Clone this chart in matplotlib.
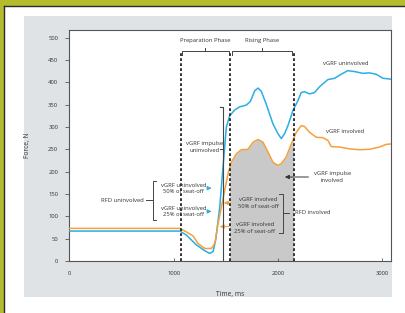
import numpy as np
from matplotlib import pyplot as plt
from matplotlib.patches import Rectangle

# vGRF traces (time in ms, force in N)
t_uninv = [0, 1060, 1123, 1219, 1299, 1347, 1379, 1404, 1443, 1474, 1506, 1538, 1586, 1634,
           1698, 1736, 1778, 1810, 1841, 1889, 1953, 2001, 2033, 2065, 2097, 2145, 2193,
           2224, 2256, 2304, 2352, 2400, 2480, 2544, 2607, 2671, 2735, 2815, 2879, 2943,
           3007, 3086]
f_uninv = [67, 67, 58, 36, 23, 17, 21, 47, 121, 210, 300, 325, 338, 345,
           349, 357, 381, 387, 380, 351, 307, 285, 274, 285, 303, 337, 359,
           377, 379, 374, 377, 390, 406, 409, 418, 426, 424, 420, 421, 418,
           409, 407]

t_inv = [0, 1060, 1123, 1187, 1235, 1299, 1363, 1395, 1427, 1459, 1490, 1522, 1554, 1602,
         1650, 1714, 1762, 1810, 1857, 1905, 1953, 2001, 2033, 2081, 2129, 2177, 2224,
         2256, 2304, 2368, 2432, 2480, 2512, 2592, 2688, 2783, 2879, 2975, 3038, 3086]
f_inv = [73, 73, 65, 56, 39, 28, 28, 39, 84, 121, 158, 195, 221, 240,
         249, 250, 266, 272, 266, 244, 221, 214, 218, 233, 262, 288, 303,
         301, 288, 277, 276, 270, 256, 255, 251, 249, 250, 255, 261, 262]

# phase boundaries (ms)
prep_start = 1069
seat_off = 1538
rise_end = 2151
impulse_uninv_t = 1474

BLUE = '#29aee6'
ORANGE = '#f5a03c'
TXT = '#333333'
FS = 4.2

plt.rcParams['font.family'] = ['Open Sans', 'DejaVu Sans']
plt.rcParams['lines.scale_dashes'] = False

fig = plt.figure(figsize=(4.06, 3.13), dpi=100)
fig.patch.set_facecolor('#b4bc2e')
W, H = 406.0, 313.0
# white page + dark edge + grey panel
fig.patches.append(Rectangle((4.5 / W, 0), 1, 1 - 5.5 / H, transform=fig.transFigure,
                             facecolor='white', edgecolor='none', zorder=-3))
fig.add_artist(plt.Line2D([4.5 / W, 4.5 / W], [0, 1 - 5.5 / H], color='#2b2b2b', lw=1.0,
                          transform=fig.transFigure, zorder=-2))
fig.add_artist(plt.Line2D([4.5 / W, 1], [1 - 5.5 / H, 1 - 5.5 / H], color='#2b2b2b', lw=1.0,
                          transform=fig.transFigure, zorder=-2))
fig.patches.append(Rectangle((24 / W, 1 - 297 / H), (392 - 24) / W, (297 - 16) / H,
                             transform=fig.transFigure, facecolor='#e0e3e6',
                             edgecolor='none', zorder=-1))

ax = fig.add_axes([69.3 / W, 1 - 261 / H, (391.5 - 69.3) / W, (261 - 30) / H])
ax.set_zorder(2)
ax.set_facecolor('white')
ax.set_xlim(0, 3090)
ax.set_ylim(0, 517)
for s in ax.spines.values():
    s.set_color('#555555')
    s.set_linewidth(0.8)

# shaded impulse involved
tt = np.linspace(seat_off, rise_end, 200)
ax.fill_between(tt, 0, np.interp(tt, t_inv, f_inv), color='#c9c9c9', lw=0, zorder=1)

ax.plot(t_uninv, f_uninv, color=BLUE, lw=1.1, zorder=3)
ax.plot(t_inv, f_inv, color=ORANGE, lw=1.1, zorder=3)

# dashed phase lines
for x in [prep_start, seat_off, rise_end]:
    ax.plot([x, x], [0, 470], color='#333333', lw=1.4, ls=(0, (2.0, 1.6)), zorder=4)

# phase brackets
def bracket_top(x0, x1, y, label):
    ax.plot([x0, x0, x1, x1], [y - 9, y, y, y - 9], color='#444444', lw=0.7)
    xm = (x0 + x1) / 2
    ax.plot([xm, xm], [y, y + 7], color='#444444', lw=0.7)
    ax.text(xm, y + 17, label, ha='center', va='bottom', fontsize=FS, color=TXT)

bracket_top(1082, 1528, 470, 'Preparation Phase')
bracket_top(1560, 2139, 470, 'Rising Phase')

# vGRF impulse uninvolved bracket
ax.plot([impulse_uninv_t - 25, impulse_uninv_t, impulse_uninv_t],
        [345, 345, 0], color='#444444', lw=0.8, zorder=4)
ax.plot([impulse_uninv_t - 30, impulse_uninv_t], [250, 250], color='#444444', lw=0.7)
ax.text(1295, 255, 'vGRF impulse\nuninvolved', ha='center', va='center', fontsize=FS,
        color=TXT, linespacing=1.3, zorder=5)

# RFD uninvolved
ax.plot([830, 798, 798, 830], [180, 180, 91, 91], color='#444444', lw=0.7)
ax.plot([740, 790], [136, 136], color='#444444', lw=0.7)
ax.text(510, 136, 'RFD uninvolved', ha='center', va='center', fontsize=FS, color=TXT)
ax.text(1097, 163, 'vGRF uninvolved\n50% of seat-off', ha='center', va='center',
        fontsize=FS, color=TXT, linespacing=1.3, zorder=5)
ax.text(1097, 111, 'vGRF uninvolved\n25% of seat-off', ha='center', va='center',
        fontsize=FS, color=TXT, linespacing=1.3, zorder=5)
arrow_kw = dict(arrowstyle='-|>,head_length=0.25,head_width=0.12', lw=0.7)
ax.annotate('', xy=(1392, 163), xytext=(1305, 163),
            arrowprops=dict(color=BLUE, **arrow_kw))
ax.annotate('', xy=(1392, 111), xytext=(1305, 111),
            arrowprops=dict(color=BLUE, **arrow_kw))

# involved labels
ax.text(1810, 130, 'vGRF involved\n50% of seat-off', ha='center', va='center',
        fontsize=FS, color=TXT, linespacing=1.3, zorder=5)
ax.text(1778, 74, 'vGRF involved\n25% of seat-off', ha='center', va='center',
        fontsize=FS, color=TXT, linespacing=1.3, zorder=5)
ax.annotate('', xy=(1455, 130), xytext=(1570, 130),
            arrowprops=dict(color=ORANGE, **arrow_kw))
ax.annotate('', xy=(1415, 77), xytext=(1560, 77),
            arrowprops=dict(color=ORANGE, **arrow_kw))

# RFD involved
ax.plot([2010, 2049, 2049, 2010], [151, 151, 63, 63], color='#444444', lw=0.7)
ax.plot([2049, 2110], [108, 108], color='#444444', lw=0.7)
ax.text(2336, 108, 'RFD involved', ha='center', va='center', fontsize=FS, color=TXT)

# impulse involved
ax.text(2520, 188, 'vGRF impulse\ninvolved', ha='center', va='center', fontsize=FS,
        color=TXT, linespacing=1.3)
ax.annotate('', xy=(2040, 188), xytext=(2320, 188),
            arrowprops=dict(color='#333333', **arrow_kw))

ax.text(2655, 442, 'vGRF uninvolved', ha='center', va='center', fontsize=FS, color=TXT)
ax.text(2646, 290, 'vGRF involved', ha='center', va='center', fontsize=FS, color=TXT)

ax.set_xticks([0, 1000, 2000, 3000])
ax.set_yticks(np.arange(0, 501, 50))
ax.tick_params(axis='x', direction='in', length=2, width=0.6, labelsize=FS,
               pad=7, colors='#555555')
ax.tick_params(axis='y', direction='out', length=3, width=0.6, labelsize=FS,
               pad=5, colors='#555555')
for lab in ax.get_xticklabels() + ax.get_yticklabels():
    lab.set_color(TXT)
ax.set_xlabel('Time, ms', fontsize=FS + 0.6, color=TXT, labelpad=11)
ax.set_ylabel('Force, N', fontsize=FS + 0.6, color=TXT, labelpad=12)

fig.savefig('out.png', dpi=100)
